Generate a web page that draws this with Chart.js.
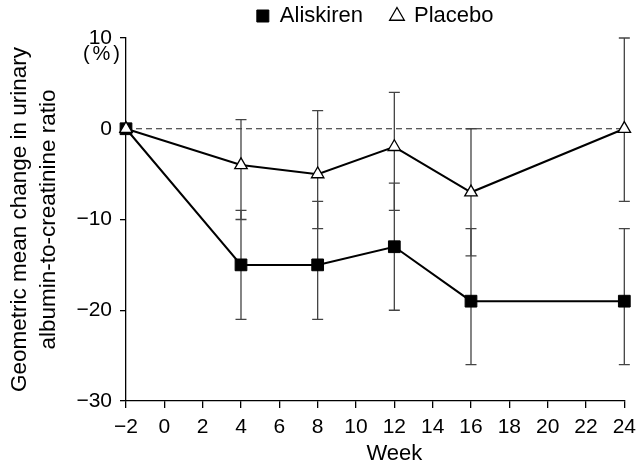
<!DOCTYPE html>
<html>
<head>
<meta charset="utf-8">
<script src="https://cdn.jsdelivr.net/npm/chart.js@4/dist/chart.umd.min.js"></script>
<style>
  html, body { margin: 0; padding: 0; background: #fff; }
  canvas { display: block; }
</style>
</head>
<body>
<canvas id="grafico" width="643" height="464"></canvas>
<script>
const weeks = [-2, 4, 8, 12, 16, 24];
const aliskiren = [0, -15, -15, -13, -19, -19];
const aliskirenLow = [null, -21, -21, -20, -26, -26];
const aliskirenHigh = [null, -9, -8, -6, -11, -11];
const placebo = [0, -4, -5, -2, -7, 0];
const placeboLow = [null, -10, -11, -9, -14, -8];
const placeboHigh = [null, 1, 2, 4, 0, 10];
const xTicks = [-2, 0, 2, 4, 6, 8, 10, 12, 14, 16, 18, 20, 22, 24];
const yTicks = [-30, -20, -10, 0, 10];

const FONT = "'Liberation Sans', Arial, sans-serif";
Chart.defaults.font.family = FONT;
Chart.defaults.color = '#000';

const minus = v => (v < 0 ? '\u2212' + Math.abs(v) : String(v));

// keep the chart area where the reference has it
const fixLegend = {
  id: 'fixLegend',
  afterInit(chart) {
    const lg = chart.legend;
    const fit = lg.fit;
    lg.fit = function () { fit.call(this); this.height = 61; };
  }
};

const errorBars = {
  id: 'errorBars',
  beforeDatasetsDraw(chart) {
    const { ctx, scales: { x, y } } = chart;
    ctx.save();
    // dashed reference line at 0
    ctx.strokeStyle = '#222';
    ctx.lineWidth = 1;
    ctx.setLineDash([6, 4]);
    ctx.beginPath();
    ctx.moveTo(x.left, y.getPixelForValue(0));
    ctx.lineTo(x.right, y.getPixelForValue(0));
    ctx.stroke();
    ctx.setLineDash([]);

    ctx.strokeStyle = '#444';
    ctx.lineWidth = 1.3;
    [[aliskirenLow, aliskirenHigh], [placeboLow, placeboHigh]].forEach(([lo, hi]) => {
      weeks.forEach((w, i) => {
        if (lo[i] == null) return;
        const px = x.getPixelForValue(w);
        const y1 = y.getPixelForValue(lo[i]);
        const y2 = y.getPixelForValue(hi[i]);
        ctx.beginPath();
        ctx.moveTo(px, y1); ctx.lineTo(px, y2);
        ctx.moveTo(px - 5.5, y1); ctx.lineTo(px + 5.5, y1);
        ctx.moveTo(px - 5.5, y2); ctx.lineTo(px + 5.5, y2);
        ctx.stroke();
      });
    });
    ctx.restore();
  },
  afterDraw(chart) {
    const { ctx, scales: { x, y } } = chart;
    ctx.save();
    ctx.fillStyle = '#000';
    ctx.font = '20px ' + FONT;
    ctx.letterSpacing = '3px';
    ctx.textBaseline = 'middle';
    ctx.textAlign = 'right';
    ctx.fillText('(%)', y.right - 3, y.getPixelForValue(10) + 16);
    ctx.letterSpacing = '0px';
    ctx.font = '22px ' + FONT;
    ctx.textAlign = 'center';
    ctx.fillText('Week', x.getPixelForValue(12), 454);
    ctx.restore();
  }
};

const ctx = document.getElementById('grafico').getContext('2d');
new Chart(ctx, {
  type: 'line',
  data: {
    datasets: [
      {
        label: 'Aliskiren',
        data: weeks.map((w, i) => ({ x: w, y: aliskiren[i] })),
        borderColor: '#000',
        borderWidth: 2,
        pointStyle: 'rect',
        pointRadius: 8.3,
        pointBackgroundColor: '#000',
        pointBorderColor: '#000',
        pointBorderWidth: 1,
        clip: false,
        order: 1
      },
      {
        label: 'Placebo',
        data: weeks.map((w, i) => ({ x: w, y: placebo[i] })),
        borderColor: '#000',
        borderWidth: 2,
        pointStyle: 'triangle',
        pointRadius: 7.2,
        pointBackgroundColor: '#fff',
        pointBorderColor: '#000',
        pointBorderWidth: 1.3,
        clip: false,
        order: 0
      }
    ]
  },
  options: {
    responsive: false,
    animation: false,
    layout: { padding: { top: -23, left: 0, right: 14, bottom: 0 } },
    plugins: {
      tooltip: { enabled: false },
      legend: {
        display: true,
        position: 'top',
        fullSize: false,
        labels: {
          usePointStyle: true,
          boxHeight: 12,
          boxWidth: 12,
          padding: 28,
          color: '#000',
          font: { size: 22 },
          sort: (a, b) => a.datasetIndex - b.datasetIndex
        }
      }
    },
    scales: {
      x: {
        type: 'linear',
        min: -2,
        max: 24,
        afterBuildTicks: s => { s.ticks = xTicks.map(v => ({ value: v })); },
        afterFit: s => { s.height = 63; },
        grid: { drawOnChartArea: false, drawTicks: true, tickLength: 7, color: '#000', lineWidth: 1.3 },
        border: { color: '#000', width: 1.3 },
        ticks: { font: { size: 21 }, padding: 7, maxRotation: 0, autoSkip: false, callback: v => minus(v) }
      },
      y: {
        type: 'linear',
        min: -30,
        max: 10,
        afterBuildTicks: s => { s.ticks = yTicks.map(v => ({ value: v })); },
        afterFit: s => { s.width = 126; },
        grid: { drawOnChartArea: false, drawTicks: true, tickLength: 6, color: '#000', lineWidth: 1.3 },
        border: { color: '#000', width: 1.3 },
        ticks: { font: { size: 21 }, padding: 8, callback: v => minus(v) },
        title: {
          display: true,
          text: ['Geometric mean change in urinary', 'albumin-to-creatinine ratio'],
          font: { size: 22.5, lineHeight: 1.3 },
          padding: { top: 5, bottom: 0 }
        }
      }
    }
  },
  plugins: [fixLegend, errorBars]
});
</script>
</body>
</html>
